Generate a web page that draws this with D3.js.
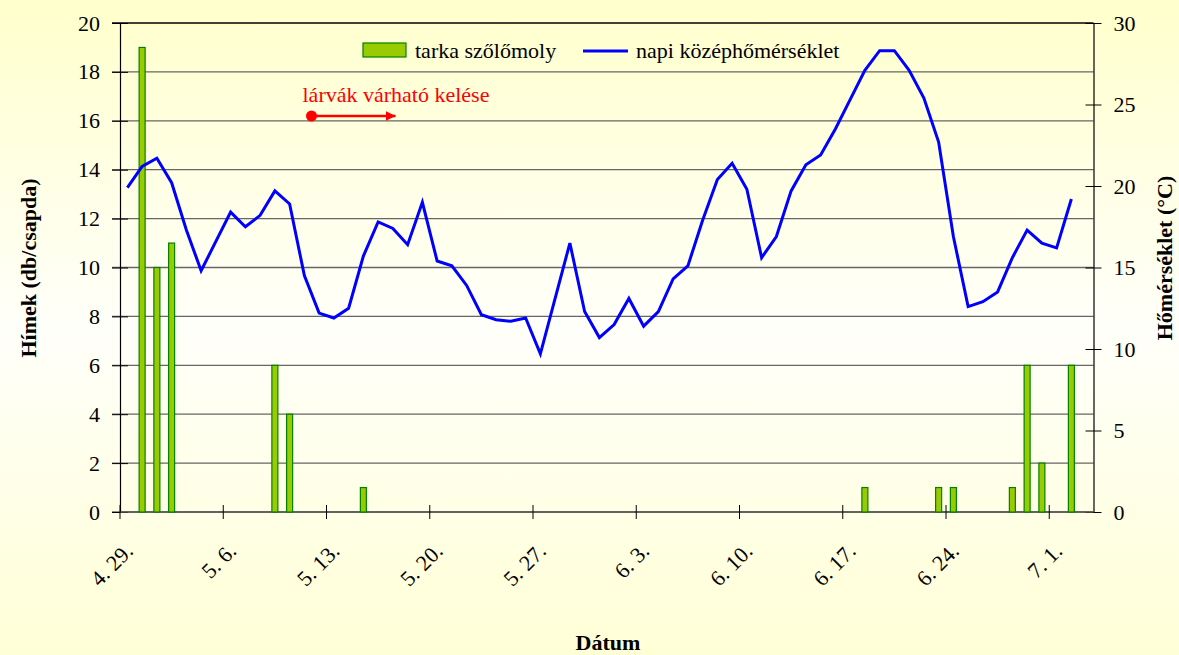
<!DOCTYPE html>
<html>
<head>
<meta charset="utf-8">
<script src="https://cdn.jsdelivr.net/npm/d3@7"></script>
<style>
  html, body { margin: 0; padding: 0; }
</style>
</head>
<body>
<svg id="chart" width="1179" height="655"></svg>
<script>
// Days from 4.29 to 7.3 (one slot per day)
const days = [
  "4.29", "4.30",
  "5.1", "5.2", "5.3", "5.4", "5.5", "5.6", "5.7", "5.8", "5.9", "5.10",
  "5.11", "5.12", "5.13", "5.14", "5.15", "5.16", "5.17", "5.18", "5.19", "5.20",
  "5.21", "5.22", "5.23", "5.24", "5.25", "5.26", "5.27", "5.28", "5.29", "5.30", "5.31",
  "6.1", "6.2", "6.3", "6.4", "6.5", "6.6", "6.7", "6.8", "6.9", "6.10",
  "6.11", "6.12", "6.13", "6.14", "6.15", "6.16", "6.17", "6.18", "6.19", "6.20",
  "6.21", "6.22", "6.23", "6.24", "6.25", "6.26", "6.27", "6.28", "6.29", "6.30",
  "7.1", "7.2", "7.3"
];

// daily mean temperature (°C), 4.29 - 7.2
const temps = [
  19.9, 21.2, 21.7, 20.2, 17.3, 14.8, 16.6, 18.4, 17.5, 18.2,
  19.7, 18.9, 14.5, 12.2, 11.9, 12.5, 15.7, 17.8, 17.4, 16.4,
  19.0, 15.4, 15.1, 13.9, 12.1, 11.8, 11.7, 11.9, 9.7, 13.1,
  16.5, 12.3, 10.7, 11.5, 13.1, 11.4, 12.3, 14.3, 15.1, 17.9,
  20.4, 21.4, 19.8, 15.6, 16.9, 19.7, 21.3, 21.9, 23.5, 25.3,
  27.1, 28.3, 28.3, 27.1, 25.4, 22.7, 16.9, 12.6, 12.9, 13.5,
  15.6, 17.3, 16.5, 16.2, 19.2
];

// trap catches (males / trap)
const catchDays = ["4.30", "5.1", "5.2", "5.9", "5.10", "5.15", "6.18", "6.23", "6.24", "6.28", "6.29", "6.30", "7.2"];
const catches   = [19, 10, 11, 6, 4, 1, 1, 1, 1, 1, 6, 2, 6];

const tickDays = ["4.29", "5.6", "5.13", "5.20", "5.27", "6.3", "6.10", "6.17", "6.24", "7.1"];
const tickLabels = ["4. 29.", "5. 6.", "5. 13.", "5. 20.", "5. 27.", "6. 3.", "6. 10.", "6. 17.", "6. 24.", "7. 1."];

const seriesNames = ["tarka szőlőmoly", "napi középhőmérséklet"];
const annotation = "lárvák várható kelése";
const annotationDay = "5.13";

const svg = d3.select("#chart");
const W = 1179, H = 655;
const m = { left: 120, right: 1093.5, top: 23, bottom: 512 };

// serif text, like the Excel original
function serif(sel, size) {
  return sel
    .style("font-family", "'Times New Roman'")
    .style("font-size", size + "px");
}

// background gradient
const defs = svg.append("defs");
const grad = defs.append("linearGradient")
  .attr("id", "bg")
  .attr("x1", 0).attr("y1", 0).attr("x2", 0).attr("y2", 1);
grad.append("stop").attr("offset", "0%").attr("stop-color", "#ffffcc");
grad.append("stop").attr("offset", "50%").attr("stop-color", "#fffffa");
grad.append("stop").attr("offset", "100%").attr("stop-color", "#ffffd6");
svg.append("rect").attr("width", W).attr("height", H).attr("fill", "url(#bg)");

const x = d3.scaleBand()
  .domain(days)
  .range([m.left, m.right])
  .padding(0);

const yL = d3.scaleLinear().domain([0, 20]).range([m.bottom, m.top]);
const yR = d3.scaleLinear().domain([0, 30]).range([m.bottom, m.top]);

// gridlines
svg.append("g")
  .selectAll("line")
  .data(yL.ticks(10))
  .enter()
  .append("line")
  .attr("x1", m.left - 8)
  .attr("x2", m.right)
  .attr("y1", d => yL(d))
  .attr("y2", d => yL(d))
  .attr("stroke", d => d === 20 ? "#000" : "#666")
  .attr("stroke-width", 1.3);

// left axis
const leftAxis = svg.append("g")
  .attr("transform", `translate(${m.left},0)`)
  .call(d3.axisLeft(yL).ticks(10).tickSizeInner(8).tickSizeOuter(0).tickPadding(12));
leftAxis.selectAll(".tick line").attr("x2", 8).attr("x1", -8);

// right axis
const rightAxis = svg.append("g")
  .attr("transform", `translate(${m.right},0)`)
  .call(d3.axisRight(yR).ticks(6).tickSizeInner(8).tickSizeOuter(0).tickPadding(12));
rightAxis.selectAll(".tick line").attr("x1", -8).attr("x2", 8);

[leftAxis, rightAxis].forEach(a => {
  a.attr("font-family", null).attr("font-size", null);
  a.select(".domain").attr("stroke", "#000").attr("stroke-width", 1.2);
  a.selectAll(".tick line").attr("stroke", "#000");
  serif(a.selectAll(".tick text"), 22).attr("fill", "#000");
});

// bottom axis
const bottomAxis = svg.append("g")
  .attr("transform", `translate(0,${m.bottom})`);
bottomAxis.append("line")
  .attr("x1", m.left).attr("x2", m.right)
  .attr("stroke", "#555").attr("stroke-width", 1.3);
bottomAxis.selectAll("line.tick")
  .data(tickDays)
  .enter()
  .append("line")
  .attr("class", "tick")
  .attr("x1", d => x(d)).attr("x2", d => x(d))
  .attr("y1", -7).attr("y2", 7)
  .attr("stroke", "#000");
serif(bottomAxis.selectAll("text")
  .data(tickDays)
  .enter()
  .append("text")
  .attr("transform", d => `translate(${x(d) + 9},${35}) rotate(-45)`)
  .attr("text-anchor", "end")
  .attr("dy", "0.35em"), 22)
  .text((d, i) => tickLabels[i]);

// bars
const barW = 6;
svg.append("g")
  .selectAll("rect")
  .data(catchDays.map((d, i) => [d, catches[i]]))
  .enter()
  .append("rect")
  .attr("x", d => x(d[0]) + x.bandwidth() / 2 - barW / 2)
  .attr("y", d => yL(d[1]))
  .attr("width", barW)
  .attr("height", d => yL(0) - yL(d[1]))
  .attr("fill", "#99cc00")
  .attr("stroke", "#008000")
  .attr("stroke-width", 1.2);

// temperature line
const line = d3.line()
  .x((d, i) => x(days[i]) + x.bandwidth() / 2)
  .y(d => yR(d));
svg.append("path")
  .datum(temps)
  .attr("d", line)
  .attr("fill", "none")
  .attr("stroke", "#0000ff")
  .attr("stroke-width", 3)
  .attr("stroke-linejoin", "miter");

// legend
const lg = svg.append("g");
lg.append("rect")
  .attr("x", 363).attr("y", 43).attr("width", 43).attr("height", 14)
  .attr("fill", "#99cc00").attr("stroke", "#008000").attr("stroke-width", 1.2);
serif(lg.append("text").attr("x", 415).attr("y", 58), 22)
  .text(seriesNames[0]);
lg.append("line")
  .attr("x1", 583).attr("x2", 628).attr("y1", 51).attr("y2", 51)
  .attr("stroke", "#0000ff").attr("stroke-width", 3);
serif(lg.append("text").attr("x", 636).attr("y", 58), 22)
  .text(seriesNames[1]);

// annotation
const ax = x(annotationDay) - 15;
serif(svg.append("text").attr("x", ax - 9).attr("y", 102), 22)
  .attr("fill", "#ff0000")
  .text(annotation);
defs.append("marker")
  .attr("id", "arrow")
  .attr("viewBox", "0 0 10 10")
  .attr("refX", 10).attr("refY", 5)
  .attr("markerWidth", 4).attr("markerHeight", 4)
  .attr("markerUnits", "strokeWidth")
  .attr("orient", "auto")
  .append("path")
  .attr("d", "M0,0 L10,5 L0,10 Z")
  .attr("fill", "#ff0000");
svg.append("circle")
  .attr("cx", ax).attr("cy", 116).attr("r", 5.5)
  .attr("fill", "#ff0000");
svg.append("line")
  .attr("x1", ax).attr("x2", ax + 84).attr("y1", 116).attr("y2", 116)
  .attr("stroke", "#ff0000").attr("stroke-width", 2.5)
  .attr("marker-end", "url(#arrow)");

// axis titles
serif(svg.append("text")
  .attr("transform", `translate(36,268) rotate(-90)`)
  .attr("text-anchor", "middle"), 22)
  .style("font-weight", "bold")
  .text("Hímek (db/csapda)");
serif(svg.append("text")
  .attr("transform", `translate(1172,258) rotate(-90)`)
  .attr("text-anchor", "middle"), 22)
  .style("font-weight", "bold")
  .text("Hőmérséklet (°C)");
serif(svg.append("text")
  .attr("x", 608).attr("y", 650)
  .attr("text-anchor", "middle"), 22)
  .style("font-weight", "bold")
  .text("Dátum");
</script>
</body>
</html>
